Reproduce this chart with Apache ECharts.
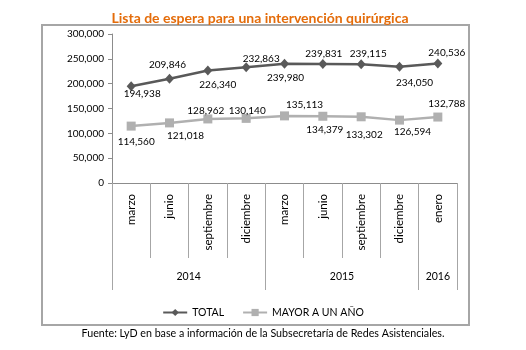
<!DOCTYPE html>
<html><head><meta charset="utf-8">
<script src="https://cdn.jsdelivr.net/npm/echarts@6/dist/echarts.min.js"></script>
<style>html,body{margin:0;padding:0;background:#fff}#c{width:526px;height:350px}</style>
</head><body><div id="c"></div>
<script>
const titleText = 'Lista de espera para una intervención quirúrgica';
const sourceText = 'Fuente: LyD en base a información de la Subsecretaría de Redes Asistenciales.';
const months = ['marzo','junio','septiembre','diciembre','marzo','junio','septiembre','diciembre','enero'];
const years = ['2014','2015','2016'];
const yearSpans = [4,4,1];
const seriesNames = ['TOTAL','MAYOR A UN AÑO'];
const total = [194938,209846,226340,232863,239980,239831,239115,234050,240536];
const mayor = [114560,121018,128962,130140,135113,134379,133302,126594,132788];
const yMin = 0, yMax = 300000, yStep = 50000;

// label placement (style only)
const totalLabelOffset = [[11,8],[-2,-14],[10,14],[15,-9],[1,14],[1,-10],[7,-10],[15,16],[9,-11]];
const mayorLabelOffset = [[5,16],[16,13],[-2,-8],[1,-8],[20,-11],[2,14],[3,18],[13,12],[9,-13]];

const FONT = 'Lato';
const fmt = v => Number(v).toLocaleString('en-US');

// year group boundaries and centers
const bounds = [0]; const centers = [];
yearSpans.forEach((s,i)=>{ const b = bounds[bounds.length-1]; centers.push(b + s/2); bounds.push(b+s); });
const centerYear = {}; centers.forEach((c,i)=>centerYear[c]=years[i]);

function mkData(vals, offs){
  return vals.map((v,i)=>({value:v, label:{position:'inside', offset:offs[i]}}));
}

const chart = echarts.init(document.getElementById('c'), null, {renderer:'canvas'});
const axisColor = '#8c8c8c';
chart.setOption({
  animation:false,
  backgroundColor:'#fff',
  title:{text:titleText, left:255, textAlign:'center', top:6,
    textStyle:{fontFamily:FONT, fontSize:14, fontWeight:'bold', color:'#E46C0A'}},
  graphic:[
    {type:'rect', shape:{x:42,y:25,width:427,height:300}, style:{fill:'none', stroke:'#a6a6a6', lineWidth:2}, z:-1},
    {type:'text', left:'center', top:328, style:{text:sourceText, fontFamily:FONT, fontSize:10.7, fill:'#000'}}
  ],
  legend:{data:seriesNames, left:'center', top:302, itemWidth:24, itemHeight:9, itemGap:18,
    textStyle:{fontFamily:FONT, fontSize:10.5, color:'#000'}},
  grid:{left:112, right:69, top:34, bottom:167, containLabel:false},
  xAxis:[
    {type:'category', data:months, boundaryGap:true, position:'bottom',
      axisLine:{show:true, lineStyle:{color:axisColor, width:1}},
      axisTick:{show:true, length:75, lineStyle:{color:'#a6a6a6'}},
      axisLabel:{rotate:90, margin:11, fontFamily:FONT, fontSize:11.5, color:'#000', interval:0}},
    {type:'value', min:0, max:months.length, position:'bottom', offset:0,
      axisLine:{show:false},
      splitLine:{show:false},
      axisTick:{show:true, length:107, customValues:bounds, lineStyle:{color:'#a6a6a6'}},
      axisLabel:{show:true, customValues:centers, margin:88, fontFamily:FONT, fontSize:10.5, color:'#000',
        formatter:v=>centerYear[v]||''}}
  ],
  yAxis:{type:'value', min:yMin, max:yMax, interval:yStep,
    axisLine:{show:true, lineStyle:{color:axisColor}},
    axisTick:{show:true, length:4, lineStyle:{color:axisColor}},
    splitLine:{show:false},
    axisLabel:{formatter:fmt, fontFamily:FONT, fontSize:10, color:'#000', margin:8}},
  series:[
    {name:seriesNames[0], type:'line', xAxisIndex:0, data:mkData(total,totalLabelOffset),
      symbol:'diamond', symbolSize:[9,10], showAllSymbol:true,
      lineStyle:{color:'#595959', width:2.5}, itemStyle:{color:'#595959'},
      label:{show:true, formatter:p=>fmt(p.value), fontFamily:FONT, fontSize:10, color:'#000'}},
    {name:seriesNames[1], type:'line', xAxisIndex:0, data:mkData(mayor,mayorLabelOffset),
      symbol:'rect', symbolSize:9, showAllSymbol:true,
      lineStyle:{color:'#b0b0b0', width:2.5}, itemStyle:{color:'#b0b0b0'},
      label:{show:true, formatter:p=>fmt(p.value), fontFamily:FONT, fontSize:10, color:'#000'}}
  ]
});
</script></body></html>
